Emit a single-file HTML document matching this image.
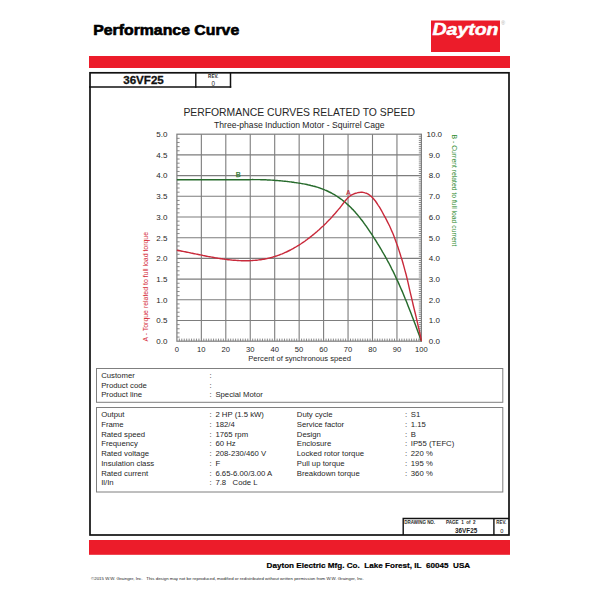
<!DOCTYPE html><html><head><meta charset="utf-8"><title>Performance Curve</title><style>html,body{margin:0;padding:0;background:#fff;width:600px;height:600px;overflow:hidden}svg{display:block}text{font-family:"Liberation Sans",Arial,sans-serif}</style></head><body>
<svg width="600" height="600" viewBox="0 0 600 600">
<text x="93.2" y="34.7" font-size="14" font-weight="bold" fill="#000" textLength="146" lengthAdjust="spacingAndGlyphs" stroke="#000" stroke-width="0.6">Performance Curve</text>
<rect x="431" y="20.5" width="69" height="31.5" fill="#EC1C2A"/>
<text x="432.5" y="35" font-size="16" font-weight="bold" font-style="italic" fill="#fff" textLength="66" lengthAdjust="spacingAndGlyphs" stroke="#fff" stroke-width="0.5">Dayton</text>
<text x="501.3" y="24.6" font-size="5.2" fill="#aaa">&#174;</text>
<rect x="89" y="56" width="421" height="12" fill="#EC1C2A"/>
<rect x="89" y="540" width="421" height="14.8" fill="#EC1C2A"/>
<rect x="90" y="72.8" width="419" height="462.2" fill="none" stroke="#111" stroke-width="1.7"/>
<line x1="89" y1="87" x2="231.2" y2="87" stroke="#111" stroke-width="1.5"/>
<line x1="195.8" y1="72" x2="195.8" y2="87.7" stroke="#111" stroke-width="1.4"/>
<line x1="230.5" y1="72" x2="230.5" y2="87.7" stroke="#111" stroke-width="1.5"/>
<text x="123.2" y="83.8" font-size="11.4" font-weight="bold" fill="#111" stroke="#111" stroke-width="0.3" textLength="40.6" lengthAdjust="spacingAndGlyphs">36VF25</text>
<text x="208.1" y="78.1" font-size="4.8" font-weight="bold" fill="#2a2a2a" textLength="10.2" lengthAdjust="spacingAndGlyphs">REV.</text>
<text x="213.3" y="85.8" font-size="6.3" fill="#2a2a2a" text-anchor="middle">0</text>
<text x="183.4" y="116" font-size="10.5" fill="#262626" textLength="231.5" lengthAdjust="spacingAndGlyphs">PERFORMANCE CURVES RELATED TO SPEED</text>
<text x="214" y="127.7" font-size="8.6" fill="#262626" textLength="170.5" lengthAdjust="spacingAndGlyphs">Three-phase Induction Motor - Squirrel Cage</text>
<path d="M201.35,134.2 V341.2 M225.80,134.2 V341.2 M250.25,134.2 V341.2 M274.70,134.2 V341.2 M299.15,134.2 V341.2 M323.60,134.2 V341.2 M348.05,134.2 V341.2 M372.50,134.2 V341.2 M396.95,134.2 V341.2 M176.9,154.90 H421.40 M176.9,175.60 H421.40 M176.9,196.30 H421.40 M176.9,217.00 H421.40 M176.9,237.70 H421.40 M176.9,258.40 H421.40 M176.9,279.10 H421.40 M176.9,299.80 H421.40 M176.9,320.50 H421.40" stroke="#7d7d7d" stroke-width="1.1" fill="none"/>
<path d="M179.34,341.2 v-2.6 M181.79,341.2 v-2.6 M184.24,341.2 v-2.6 M186.68,341.2 v-2.6 M189.12,341.2 v-2.6 M191.57,341.2 v-2.6 M194.02,341.2 v-2.6 M196.46,341.2 v-2.6 M198.91,341.2 v-2.6 M203.80,341.2 v-2.6 M206.24,341.2 v-2.6 M208.69,341.2 v-2.6 M211.13,341.2 v-2.6 M213.57,341.2 v-2.6 M216.02,341.2 v-2.6 M218.47,341.2 v-2.6 M220.91,341.2 v-2.6 M223.36,341.2 v-2.6 M228.25,341.2 v-2.6 M230.69,341.2 v-2.6 M233.13,341.2 v-2.6 M235.58,341.2 v-2.6 M238.03,341.2 v-2.6 M240.47,341.2 v-2.6 M242.92,341.2 v-2.6 M245.36,341.2 v-2.6 M247.81,341.2 v-2.6 M252.69,341.2 v-2.6 M255.14,341.2 v-2.6 M257.58,341.2 v-2.6 M260.03,341.2 v-2.6 M262.48,341.2 v-2.6 M264.92,341.2 v-2.6 M267.37,341.2 v-2.6 M269.81,341.2 v-2.6 M272.25,341.2 v-2.6 M277.14,341.2 v-2.6 M279.59,341.2 v-2.6 M282.03,341.2 v-2.6 M284.48,341.2 v-2.6 M286.93,341.2 v-2.6 M289.37,341.2 v-2.6 M291.81,341.2 v-2.6 M294.26,341.2 v-2.6 M296.70,341.2 v-2.6 M301.60,341.2 v-2.6 M304.04,341.2 v-2.6 M306.49,341.2 v-2.6 M308.93,341.2 v-2.6 M311.38,341.2 v-2.6 M313.82,341.2 v-2.6 M316.26,341.2 v-2.6 M318.71,341.2 v-2.6 M321.15,341.2 v-2.6 M326.04,341.2 v-2.6 M328.49,341.2 v-2.6 M330.94,341.2 v-2.6 M333.38,341.2 v-2.6 M335.82,341.2 v-2.6 M338.27,341.2 v-2.6 M340.72,341.2 v-2.6 M343.16,341.2 v-2.6 M345.61,341.2 v-2.6 M350.50,341.2 v-2.6 M352.94,341.2 v-2.6 M355.38,341.2 v-2.6 M357.83,341.2 v-2.6 M360.27,341.2 v-2.6 M362.72,341.2 v-2.6 M365.16,341.2 v-2.6 M367.61,341.2 v-2.6 M370.06,341.2 v-2.6 M374.94,341.2 v-2.6 M377.39,341.2 v-2.6 M379.83,341.2 v-2.6 M382.28,341.2 v-2.6 M384.73,341.2 v-2.6 M387.17,341.2 v-2.6 M389.62,341.2 v-2.6 M392.06,341.2 v-2.6 M394.50,341.2 v-2.6 M399.39,341.2 v-2.6 M401.84,341.2 v-2.6 M404.28,341.2 v-2.6 M406.73,341.2 v-2.6 M409.17,341.2 v-2.6 M411.62,341.2 v-2.6 M414.06,341.2 v-2.6 M416.51,341.2 v-2.6 M418.95,341.2 v-2.6 M176.9,337.06 h2.7 M176.9,332.92 h2.7 M176.9,328.78 h2.7 M176.9,324.64 h2.7 M176.9,316.36 h2.7 M176.9,312.22 h2.7 M176.9,308.08 h2.7 M176.9,303.94 h2.7 M176.9,295.66 h2.7 M176.9,291.52 h2.7 M176.9,287.38 h2.7 M176.9,283.24 h2.7 M176.9,274.96 h2.7 M176.9,270.82 h2.7 M176.9,266.68 h2.7 M176.9,262.54 h2.7 M176.9,254.26 h2.7 M176.9,250.12 h2.7 M176.9,245.98 h2.7 M176.9,241.84 h2.7 M176.9,233.56 h2.7 M176.9,229.42 h2.7 M176.9,225.28 h2.7 M176.9,221.14 h2.7 M176.9,212.86 h2.7 M176.9,208.72 h2.7 M176.9,204.58 h2.7 M176.9,200.44 h2.7 M176.9,192.16 h2.7 M176.9,188.02 h2.7 M176.9,183.88 h2.7 M176.9,179.74 h2.7 M176.9,171.46 h2.7 M176.9,167.32 h2.7 M176.9,163.18 h2.7 M176.9,159.04 h2.7 M176.9,150.76 h2.7 M176.9,146.62 h2.7 M176.9,142.48 h2.7 M176.9,138.34 h2.7 M421.40,339.13 h-2.6 M421.40,337.06 h-2.6 M421.40,334.99 h-2.6 M421.40,332.92 h-2.6 M421.40,330.85 h-2.6 M421.40,328.78 h-2.6 M421.40,326.71 h-2.6 M421.40,324.64 h-2.6 M421.40,322.57 h-2.6 M421.40,318.43 h-2.6 M421.40,316.36 h-2.6 M421.40,314.29 h-2.6 M421.40,312.22 h-2.6 M421.40,310.15 h-2.6 M421.40,308.08 h-2.6 M421.40,306.01 h-2.6 M421.40,303.94 h-2.6 M421.40,301.87 h-2.6 M421.40,297.73 h-2.6 M421.40,295.66 h-2.6 M421.40,293.59 h-2.6 M421.40,291.52 h-2.6 M421.40,289.45 h-2.6 M421.40,287.38 h-2.6 M421.40,285.31 h-2.6 M421.40,283.24 h-2.6 M421.40,281.17 h-2.6 M421.40,277.03 h-2.6 M421.40,274.96 h-2.6 M421.40,272.89 h-2.6 M421.40,270.82 h-2.6 M421.40,268.75 h-2.6 M421.40,266.68 h-2.6 M421.40,264.61 h-2.6 M421.40,262.54 h-2.6 M421.40,260.47 h-2.6 M421.40,256.33 h-2.6 M421.40,254.26 h-2.6 M421.40,252.19 h-2.6 M421.40,250.12 h-2.6 M421.40,248.05 h-2.6 M421.40,245.98 h-2.6 M421.40,243.91 h-2.6 M421.40,241.84 h-2.6 M421.40,239.77 h-2.6 M421.40,235.63 h-2.6 M421.40,233.56 h-2.6 M421.40,231.49 h-2.6 M421.40,229.42 h-2.6 M421.40,227.35 h-2.6 M421.40,225.28 h-2.6 M421.40,223.21 h-2.6 M421.40,221.14 h-2.6 M421.40,219.07 h-2.6 M421.40,214.93 h-2.6 M421.40,212.86 h-2.6 M421.40,210.79 h-2.6 M421.40,208.72 h-2.6 M421.40,206.65 h-2.6 M421.40,204.58 h-2.6 M421.40,202.51 h-2.6 M421.40,200.44 h-2.6 M421.40,198.37 h-2.6 M421.40,194.23 h-2.6 M421.40,192.16 h-2.6 M421.40,190.09 h-2.6 M421.40,188.02 h-2.6 M421.40,185.95 h-2.6 M421.40,183.88 h-2.6 M421.40,181.81 h-2.6 M421.40,179.74 h-2.6 M421.40,177.67 h-2.6 M421.40,173.53 h-2.6 M421.40,171.46 h-2.6 M421.40,169.39 h-2.6 M421.40,167.32 h-2.6 M421.40,165.25 h-2.6 M421.40,163.18 h-2.6 M421.40,161.11 h-2.6 M421.40,159.04 h-2.6 M421.40,156.97 h-2.6 M421.40,152.83 h-2.6 M421.40,150.76 h-2.6 M421.40,148.69 h-2.6 M421.40,146.62 h-2.6 M421.40,144.55 h-2.6 M421.40,142.48 h-2.6 M421.40,140.41 h-2.6 M421.40,138.34 h-2.6 M421.40,136.27 h-2.6" stroke="#7d7d7d" stroke-width="0.9" fill="none"/>
<rect x="176.9" y="134.2" width="244.50" height="207.00" fill="none" stroke="#7d7d7d" stroke-width="1.2"/>
<path d="M176.9,179.7 177.9,179.7 178.9,179.7 180.0,179.7 181.0,179.7 182.0,179.7 183.0,179.7 184.1,179.7 185.1,179.7 186.1,179.7 187.1,179.7 188.2,179.7 189.2,179.7 190.2,179.7 191.2,179.7 192.2,179.7 193.3,179.7 194.3,179.7 195.3,179.7 196.3,179.7 197.4,179.7 198.4,179.7 199.4,179.7 200.4,179.7 201.5,179.7 202.5,179.7 203.5,179.7 204.5,179.7 205.5,179.7 206.6,179.7 207.6,179.7 208.6,179.7 209.6,179.7 210.7,179.7 211.7,179.7 212.7,179.7 213.7,179.7 214.8,179.7 215.8,179.7 216.8,179.7 217.8,179.7 218.8,179.7 219.9,179.7 220.9,179.7 221.9,179.7 222.9,179.7 224.0,179.7 225.0,179.7 226.0,179.7 227.0,179.7 228.1,179.7 229.1,179.7 230.1,179.7 231.1,179.7 232.1,179.7 233.2,179.7 234.2,179.7 235.2,179.7 236.2,179.7 237.3,179.7 238.3,179.7 239.3,179.7 240.3,179.7 241.3,179.7 242.4,179.7 243.4,179.7 244.4,179.7 245.4,179.7 246.5,179.7 247.5,179.7 248.5,179.7 249.5,179.7 250.6,179.6 251.6,179.6 252.6,179.5 253.6,179.6 254.6,179.6 255.7,179.6 256.7,179.6 257.7,179.6 258.7,179.6 259.8,179.6 260.8,179.7 261.8,179.7 262.8,179.7 263.9,179.7 264.9,179.8 265.9,179.8 266.9,179.9 267.9,179.9 269.0,180.0 270.0,180.0 271.0,180.1 272.0,180.1 273.1,180.2 274.1,180.3 275.1,180.4 276.1,180.4 277.2,180.5 278.2,180.6 279.2,180.7 280.2,180.8 281.2,180.9 282.3,181.0 283.3,181.1 284.3,181.2 285.3,181.3 286.4,181.4 287.4,181.5 288.4,181.6 289.4,181.8 290.5,181.9 291.5,182.0 292.5,182.2 293.5,182.3 294.5,182.5 295.6,182.6 296.6,182.8 297.6,182.9 298.6,183.1 299.7,183.2 300.7,183.4 301.7,183.6 302.7,183.8 303.8,183.9 304.8,184.1 305.8,184.3 306.8,184.5 307.8,184.8 308.9,185.0 309.9,185.2 310.9,185.5 311.9,185.7 313.0,186.0 314.0,186.2 315.0,186.5 316.0,186.8 317.1,187.1 318.1,187.4 319.1,187.8 320.1,188.1 321.1,188.5 322.2,188.9 323.2,189.3 324.2,189.7 325.2,190.1 326.3,190.5 327.3,191.0 328.3,191.5 329.3,192.0 330.4,192.5 331.4,193.0 332.4,193.6 333.4,194.2 334.4,194.7 335.5,195.4 336.5,196.0 337.5,196.7 338.5,197.4 339.6,198.1 340.6,198.8 341.6,199.5 342.6,200.3 343.7,201.1 344.7,202.0 345.7,202.8 346.7,203.7 347.7,204.6 348.8,205.6 349.8,206.5 350.8,207.5 351.8,208.6 352.9,209.6 353.9,210.7 354.9,211.8 355.9,213.0 357.0,214.2 358.0,215.4 359.0,216.6 360.0,217.9 361.0,219.2 362.1,220.5 363.1,221.9 364.1,223.3 365.1,224.7 366.2,226.1 367.2,227.6 368.2,229.1 369.2,230.6 370.2,232.1 371.3,233.7 372.3,235.2 373.3,236.8 374.3,238.4 375.4,240.0 376.4,241.6 377.4,243.3 378.4,244.9 379.5,246.6 380.5,248.3 381.5,250.0 382.5,251.8 383.5,253.5 384.6,255.3 385.6,257.2 386.6,259.0 387.6,260.9 388.7,262.8 389.7,264.8 390.7,266.7 391.7,268.8 392.8,270.8 393.8,272.9 394.8,275.0 395.8,277.2 396.8,279.4 397.9,281.6 398.9,283.9 399.9,286.2 400.9,288.5 402.0,290.9 403.0,293.3 404.0,295.8 405.0,298.3 406.1,300.8 407.1,303.3 408.1,305.9 409.1,308.5 410.1,311.1 411.2,313.8 412.2,316.4 413.2,319.1 414.2,321.8 415.3,324.6 416.3,327.3 417.3,330.1 418.3,332.8 419.4,335.6 420.4,338.4 421.4,341.2" stroke="#276b2c" stroke-width="1.45" fill="none" stroke-linejoin="round"/>
<path d="M176.9,250.3 177.9,250.5 178.9,250.7 180.0,250.8 181.0,251.0 182.0,251.2 183.0,251.4 184.1,251.6 185.1,251.8 186.1,252.0 187.1,252.2 188.2,252.4 189.2,252.6 190.2,252.8 191.2,253.1 192.2,253.3 193.3,253.5 194.3,253.7 195.3,253.9 196.3,254.1 197.4,254.3 198.4,254.5 199.4,254.7 200.4,254.9 201.5,255.1 202.5,255.3 203.5,255.6 204.5,255.8 205.5,256.0 206.6,256.2 207.6,256.4 208.6,256.6 209.6,256.7 210.7,256.9 211.7,257.1 212.7,257.3 213.7,257.5 214.8,257.7 215.8,257.9 216.8,258.0 217.8,258.2 218.8,258.4 219.9,258.5 220.9,258.7 221.9,258.8 222.9,259.0 224.0,259.1 225.0,259.3 226.0,259.4 227.0,259.5 228.1,259.7 229.1,259.8 230.1,259.9 231.1,260.0 232.1,260.1 233.2,260.2 234.2,260.3 235.2,260.3 236.2,260.4 237.3,260.5 238.3,260.5 239.3,260.6 240.3,260.6 241.3,260.7 242.4,260.7 243.4,260.7 244.4,260.7 245.4,260.7 246.5,260.7 247.5,260.7 248.5,260.7 249.5,260.7 250.6,260.6 251.6,260.6 252.6,260.5 253.6,260.4 254.6,260.4 255.7,260.3 256.7,260.2 257.7,260.1 258.7,259.9 259.8,259.8 260.8,259.7 261.8,259.5 262.8,259.3 263.9,259.2 264.9,259.0 265.9,258.8 266.9,258.6 267.9,258.3 269.0,258.1 270.0,257.8 271.0,257.6 272.0,257.3 273.1,257.0 274.1,256.7 275.1,256.4 276.1,256.0 277.2,255.7 278.2,255.3 279.2,255.0 280.2,254.6 281.2,254.2 282.3,253.8 283.3,253.3 284.3,252.9 285.3,252.4 286.4,252.0 287.4,251.5 288.4,251.0 289.4,250.5 290.5,250.0 291.5,249.4 292.5,248.9 293.5,248.3 294.5,247.7 295.6,247.1 296.6,246.5 297.6,245.9 298.6,245.3 299.7,244.6 300.7,244.0 301.7,243.3 302.7,242.6 303.8,241.9 304.8,241.2 305.8,240.4 306.8,239.7 307.8,238.9 308.9,238.2 309.9,237.4 310.9,236.6 311.9,235.8 313.0,234.9 314.0,234.1 315.0,233.2 316.0,232.4 317.1,231.5 318.1,230.6 319.1,229.7 320.1,228.7 321.1,227.8 322.2,226.8 323.2,225.9 324.2,224.9 325.2,223.9 326.3,222.9 327.3,221.8 328.3,220.8 329.3,219.7 330.4,218.7 331.4,217.6 332.4,216.5 333.4,215.3 334.4,214.2 335.5,213.0 336.5,211.8 337.5,210.6 338.5,209.4 339.6,208.2 340.6,206.9 341.6,205.6 342.6,204.3 343.7,202.9 344.7,201.6 345.7,200.3 346.7,199.1 347.7,198.0 348.8,197.0 349.8,196.2 350.8,195.4 351.8,194.8 352.9,194.3 353.9,193.9 354.9,193.5 355.9,193.2 357.0,192.9 358.0,192.6 359.0,192.5 360.0,192.4 361.0,192.3 362.1,192.3 363.1,192.4 364.1,192.6 365.1,192.9 366.2,193.2 367.2,193.7 368.2,194.2 369.2,194.8 370.2,195.6 371.3,196.4 372.3,197.4 373.3,198.5 374.3,199.7 375.4,201.0 376.4,202.5 377.4,204.0 378.4,205.6 379.5,207.2 380.5,208.9 381.5,210.7 382.5,212.5 383.5,214.4 384.6,216.3 385.6,218.2 386.6,220.1 387.6,222.1 388.7,224.2 389.7,226.3 390.7,228.5 391.7,230.9 392.8,233.3 393.8,235.8 394.8,238.5 395.8,241.2 396.8,244.1 397.9,247.0 398.9,250.1 399.9,253.2 400.9,256.5 402.0,259.8 403.0,263.3 404.0,266.9 405.0,270.6 406.1,274.5 407.1,278.6 408.1,282.9 409.1,287.3 410.1,291.8 411.2,296.3 412.2,300.7 413.2,305.0 414.2,309.2 415.3,313.5 416.3,317.7 417.3,322.1 418.3,326.5 419.4,331.2 420.4,336.0 421.4,341.1" stroke="#c92a3b" stroke-width="1.4" fill="none" stroke-linejoin="round"/>
<text x="238.1" y="177.4" font-size="7.4" fill="#2f7a2f" stroke="#2f7a2f" stroke-width="0.25" text-anchor="middle">B</text>
<text x="348.3" y="195.4" font-size="6.4" fill="#c0283a" stroke="#c0283a" stroke-width="0.2" text-anchor="middle">A</text>
<text x="167.4" y="137.0" font-size="8" fill="#262626" text-anchor="end">5.0</text>
<text x="434.3" y="137.0" font-size="8" fill="#262626" text-anchor="middle">10.0</text>
<text x="167.4" y="157.7" font-size="8" fill="#262626" text-anchor="end">4.5</text>
<text x="434.3" y="157.7" font-size="8" fill="#262626" text-anchor="middle">9.0</text>
<text x="167.4" y="178.4" font-size="8" fill="#262626" text-anchor="end">4.0</text>
<text x="434.3" y="178.4" font-size="8" fill="#262626" text-anchor="middle">8.0</text>
<text x="167.4" y="199.1" font-size="8" fill="#262626" text-anchor="end">3.5</text>
<text x="434.3" y="199.1" font-size="8" fill="#262626" text-anchor="middle">7.0</text>
<text x="167.4" y="219.8" font-size="8" fill="#262626" text-anchor="end">3.0</text>
<text x="434.3" y="219.8" font-size="8" fill="#262626" text-anchor="middle">6.0</text>
<text x="167.4" y="240.5" font-size="8" fill="#262626" text-anchor="end">2.5</text>
<text x="434.3" y="240.5" font-size="8" fill="#262626" text-anchor="middle">5.0</text>
<text x="167.4" y="261.2" font-size="8" fill="#262626" text-anchor="end">2.0</text>
<text x="434.3" y="261.2" font-size="8" fill="#262626" text-anchor="middle">4.0</text>
<text x="167.4" y="281.9" font-size="8" fill="#262626" text-anchor="end">1.5</text>
<text x="434.3" y="281.9" font-size="8" fill="#262626" text-anchor="middle">3.0</text>
<text x="167.4" y="302.6" font-size="8" fill="#262626" text-anchor="end">1.0</text>
<text x="434.3" y="302.6" font-size="8" fill="#262626" text-anchor="middle">2.0</text>
<text x="167.4" y="323.3" font-size="8" fill="#262626" text-anchor="end">0.5</text>
<text x="434.3" y="323.3" font-size="8" fill="#262626" text-anchor="middle">1.0</text>
<text x="167.4" y="344.0" font-size="8" fill="#262626" text-anchor="end">0.0</text>
<text x="434.3" y="344.0" font-size="8" fill="#262626" text-anchor="middle">0.0</text>
<text x="176.9" y="351.8" font-size="7.6" fill="#262626" text-anchor="middle">0</text>
<text x="201.3" y="351.8" font-size="7.6" fill="#262626" text-anchor="middle">10</text>
<text x="225.8" y="351.8" font-size="7.6" fill="#262626" text-anchor="middle">20</text>
<text x="250.2" y="351.8" font-size="7.6" fill="#262626" text-anchor="middle">30</text>
<text x="274.7" y="351.8" font-size="7.6" fill="#262626" text-anchor="middle">40</text>
<text x="299.1" y="351.8" font-size="7.6" fill="#262626" text-anchor="middle">50</text>
<text x="323.6" y="351.8" font-size="7.6" fill="#262626" text-anchor="middle">60</text>
<text x="348.0" y="351.8" font-size="7.6" fill="#262626" text-anchor="middle">70</text>
<text x="372.5" y="351.8" font-size="7.6" fill="#262626" text-anchor="middle">80</text>
<text x="396.9" y="351.8" font-size="7.6" fill="#262626" text-anchor="middle">90</text>
<text x="421.4" y="351.8" font-size="7.6" fill="#262626" text-anchor="middle">100</text>
<text x="299.6" y="361" font-size="7.6" fill="#262626" text-anchor="middle">Percent of synchronous speed</text>
<text transform="translate(147.6,286.7) rotate(-90)" font-size="6.93" fill="#d42a35" text-anchor="middle">A - Torque related to full load torque</text>
<text transform="translate(451.6,190.5) rotate(90)" font-size="6.8" fill="#2e8b2e" text-anchor="middle">B - Current related to full load current</text>
<rect x="96.5" y="368.5" width="406.3" height="33.8" fill="none" stroke="#7f7f7f" stroke-width="1"/>
<rect x="96.5" y="407.5" width="406.3" height="84.5" fill="none" stroke="#7f7f7f" stroke-width="1"/>
<text x="101.2" y="378.1" font-size="7.75" fill="#262626">Customer</text>
<text x="209.6" y="378.1" font-size="7.75" fill="#262626">:</text>
<text x="101.2" y="387.7" font-size="7.75" fill="#262626">Product code</text>
<text x="209.6" y="387.7" font-size="7.75" fill="#262626">:</text>
<text x="101.2" y="397.3" font-size="7.75" fill="#262626">Product line</text>
<text x="209.6" y="397.3" font-size="7.75" fill="#262626">:</text>
<text x="215.4" y="397.3" font-size="7.75" fill="#262626">Special Motor</text>
<text x="101.2" y="417.2" font-size="7.75" fill="#262626">Output</text>
<text x="209.6" y="417.2" font-size="7.75" fill="#262626">:</text>
<text x="215.4" y="417.2" font-size="7.75" fill="#262626">2 HP (1.5 kW)</text>
<text x="101.2" y="426.9" font-size="7.75" fill="#262626">Frame</text>
<text x="209.6" y="426.9" font-size="7.75" fill="#262626">:</text>
<text x="215.4" y="426.9" font-size="7.75" fill="#262626">182/4</text>
<text x="101.2" y="436.7" font-size="7.75" fill="#262626">Rated speed</text>
<text x="209.6" y="436.7" font-size="7.75" fill="#262626">:</text>
<text x="215.4" y="436.7" font-size="7.75" fill="#262626">1765 rpm</text>
<text x="101.2" y="446.4" font-size="7.75" fill="#262626">Frequency</text>
<text x="209.6" y="446.4" font-size="7.75" fill="#262626">:</text>
<text x="215.4" y="446.4" font-size="7.75" fill="#262626">60 Hz</text>
<text x="101.2" y="456.2" font-size="7.75" fill="#262626">Rated voltage</text>
<text x="209.6" y="456.2" font-size="7.75" fill="#262626">:</text>
<text x="215.4" y="456.2" font-size="7.75" fill="#262626">208-230/460 V</text>
<text x="101.2" y="465.9" font-size="7.75" fill="#262626">Insulation class</text>
<text x="209.6" y="465.9" font-size="7.75" fill="#262626">:</text>
<text x="215.4" y="465.9" font-size="7.75" fill="#262626">F</text>
<text x="101.2" y="475.6" font-size="7.75" fill="#262626">Rated current</text>
<text x="209.6" y="475.6" font-size="7.75" fill="#262626">:</text>
<text x="215.4" y="475.6" font-size="7.75" fill="#262626">6.65-6.00/3.00 A</text>
<text x="101.2" y="485.4" font-size="7.75" fill="#262626">Il/In</text>
<text x="209.6" y="485.4" font-size="7.75" fill="#262626">:</text>
<text x="215.4" y="485.4" font-size="7.75" fill="#262626">7.8&#160;&#160;&#160;Code L</text>
<text x="296.8" y="417.2" font-size="7.75" fill="#262626">Duty cycle</text>
<text x="405" y="417.2" font-size="7.75" fill="#262626">:</text>
<text x="410.8" y="417.2" font-size="7.75" fill="#262626">S1</text>
<text x="296.8" y="426.9" font-size="7.75" fill="#262626">Service factor</text>
<text x="405" y="426.9" font-size="7.75" fill="#262626">:</text>
<text x="410.8" y="426.9" font-size="7.75" fill="#262626">1.15</text>
<text x="296.8" y="436.7" font-size="7.75" fill="#262626">Design</text>
<text x="405" y="436.7" font-size="7.75" fill="#262626">:</text>
<text x="410.8" y="436.7" font-size="7.75" fill="#262626">B</text>
<text x="296.8" y="446.4" font-size="7.75" fill="#262626">Enclosure</text>
<text x="405" y="446.4" font-size="7.75" fill="#262626">:</text>
<text x="410.8" y="446.4" font-size="7.75" fill="#262626">IP55 (TEFC)</text>
<text x="296.8" y="456.2" font-size="7.75" fill="#262626">Locked rotor torque</text>
<text x="405" y="456.2" font-size="7.75" fill="#262626">:</text>
<text x="410.8" y="456.2" font-size="7.75" fill="#262626">220 %</text>
<text x="296.8" y="465.9" font-size="7.75" fill="#262626">Pull up torque</text>
<text x="405" y="465.9" font-size="7.75" fill="#262626">:</text>
<text x="410.8" y="465.9" font-size="7.75" fill="#262626">195 %</text>
<text x="296.8" y="475.6" font-size="7.75" fill="#262626">Breakdown torque</text>
<text x="405" y="475.6" font-size="7.75" fill="#262626">:</text>
<text x="410.8" y="475.6" font-size="7.75" fill="#262626">360 %</text>
<path d="M403.2,535 V518.5 H509 M493.9,518.5 V535" stroke="#111" stroke-width="1.4" fill="none"/>
<text x="404.3" y="524.3" font-size="4.7" font-weight="bold" fill="#2a2a2a" textLength="30.8" lengthAdjust="spacingAndGlyphs">DRAWING NO.</text>
<text x="446" y="524.2" font-size="4.7" font-weight="bold" fill="#2a2a2a" textLength="29.6" lengthAdjust="spacingAndGlyphs">PAGE&#160; 1&#160; of&#160; 2</text>
<text x="455" y="533.1" font-size="6.7" font-weight="bold" fill="#1a1a1a" textLength="22.2" lengthAdjust="spacingAndGlyphs">36VF25</text>
<text x="496.3" y="524.2" font-size="4.7" font-weight="bold" fill="#2a2a2a" textLength="10" lengthAdjust="spacingAndGlyphs">REV.</text>
<text x="501.8" y="532.7" font-size="5.7" fill="#2a2a2a" text-anchor="middle">0</text>
<text x="266.6" y="568.2" font-size="8" font-weight="bold" fill="#000" stroke="#000" stroke-width="0.2" textLength="203.6" lengthAdjust="spacingAndGlyphs">Dayton Electric Mfg. Co.&#160; Lake Forest, IL&#160; 60045&#160; USA</text>
<text x="91" y="580" font-size="4.4" fill="#222" textLength="273" lengthAdjust="spacingAndGlyphs">&#169;2015 W.W. Grainger, Inc.&#160;&#160; This design may not be reproduced, modified or redistributed without written permission from W.W. Grainger, Inc.</text>
</svg></body></html>
